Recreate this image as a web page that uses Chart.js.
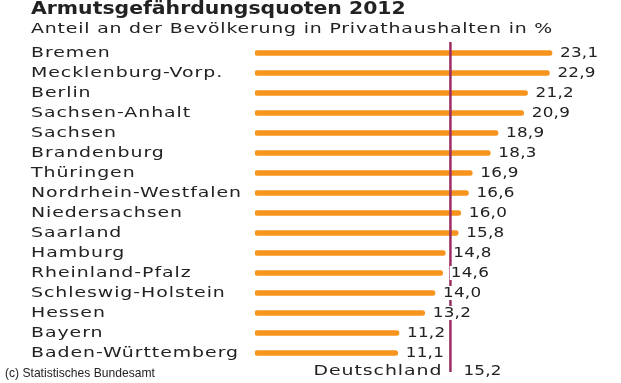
<!DOCTYPE html>
<html>
<head>
<meta charset="utf-8">
<script src="https://cdn.jsdelivr.net/npm/chart.js@4"></script>
<style>
  body { margin: 0; background: #fff; }
  #wrap { width: 621px; height: 383px; }
</style>
</head>
<body>
<div id="wrap"><canvas id="myChart" width="621" height="383"></canvas></div>
<script>
// Armutsgefährdungsquoten 2012, Anteil in %
const laender = ['Bremen', 'Mecklenburg-Vorp.', 'Berlin', 'Sachsen-Anhalt', 'Sachsen', 'Brandenburg',
  'Thüringen', 'Nordrhein-Westfalen', 'Niedersachsen', 'Saarland', 'Hamburg', 'Rheinland-Pfalz',
  'Schleswig-Holstein', 'Hessen', 'Bayern', 'Baden-Württemberg'];
const quoten = [23.1, 22.9, 21.2, 20.9, 18.9, 18.3, 16.9, 16.6, 16.0, 15.8, 14.8, 14.6, 14.0, 13.2, 11.2, 11.1];
const deutschlandLabel = 'Deutschland';
const deutschlandWert = 15.2;

const titel = 'Armutsgefährdungsquoten 2012';
const untertitel = 'Anteil an der Bevölkerung in Privathaushalten in %';
const quelle = '(c) Statistisches Bundesamt';

const orange = '#f7941d';
const linie = '#9a2e62';

function zahl(v) {
  return v.toFixed(1).replace('.', ',');
}

// text etwas breiter gezogen wie im original
function breitText(ctx, txt, x, y, font, sx, ls, align) {
  ctx.save();
  ctx.font = font;
  ctx.letterSpacing = ls + 'px';
  ctx.textBaseline = 'middle';
  ctx.fillStyle = '#222';
  let w = ctx.measureText(txt).width * sx;
  let start = x;
  if (align === 'right') start = x - w;
  ctx.translate(start, y);
  ctx.scale(sx, 1);
  ctx.textAlign = 'left';
  ctx.fillText(txt, 0, 0);
  ctx.restore();
  return w;
}

const textPlugin = {
  id: 'textPlugin',
  afterDatasetsDraw(chart) {
    const ctx = chart.ctx;
    const xs = chart.scales.x;
    const ys = chart.scales.y;
    const area = chart.chartArea;

    // deutschland-linie ueber den balken
    const lx = xs.getPixelForValue(deutschlandWert);
    ctx.save();
    ctx.strokeStyle = linie;
    ctx.lineWidth = 2.5;
    ctx.beginPath();
    ctx.moveTo(lx, area.top - 1);
    ctx.lineTo(lx, area.bottom - 11);
    ctx.stroke();
    ctx.restore();

    // titel
    breitText(ctx, titel, 31, 10, 'bold 17px "DejaVu Sans"', 1.2, 0);
    breitText(ctx, untertitel, 31, 29, '14px "DejaVu Sans"', 1.35, 0.6);

    // laendernamen
    laender.forEach((name, i) => {
      breitText(ctx, name, 31, ys.getPixelForValue(i), '14px "DejaVu Sans"', 1.35, 0.7);
    });

    // werte rechts neben den balken
    quoten.forEach((v, i) => {
      const x = xs.getPixelForValue(v) + 8;
      const y = ys.getPixelForValue(i);
      ctx.save();
      ctx.font = '14px "DejaVu Sans"';
      const w = ctx.measureText(zahl(v)).width * 1.2;
      ctx.fillStyle = '#fff';
      ctx.fillRect(x - 1, y - 7, w + 2, 14);
      ctx.restore();
      breitText(ctx, zahl(v), x, y, '14px "DejaVu Sans"', 1.2, 0.2);
    });

    // deutschland
    const dy = ys.getPixelForValue(laender.length) - 2;
    breitText(ctx, deutschlandLabel, lx - 8, dy, '14px "DejaVu Sans"', 1.35, 0.7, 'right');
    breitText(ctx, zahl(deutschlandWert), lx + 13, dy, '14px "DejaVu Sans"', 1.2, 0.2);

    // quelle
    breitText(ctx, quelle, 5, 373, '13px "Liberation Sans"', 0.93, 0);
  }
};

const myChart = new Chart(document.getElementById('myChart'), {
  type: 'bar',
  data: {
    labels: [...laender, ''],
    datasets: [{
      data: [...quoten, null],
      backgroundColor: orange,
      borderWidth: 0,
      barThickness: 5,
      borderRadius: 2.5,
      borderSkipped: false
    }]
  },
  options: {
    indexAxis: 'y',
    responsive: false,
    animation: false,
    layout: { padding: { left: 255, right: 6, top: 43, bottom: 0 } },
    plugins: {
      legend: { display: false },
      tooltip: { enabled: false }
    },
    scales: {
      x: { display: false, min: 0, max: 28 },
      y: { display: false, grid: { display: false } }
    }
  },
  plugins: [textPlugin]
});
</script>
</body>
</html>
